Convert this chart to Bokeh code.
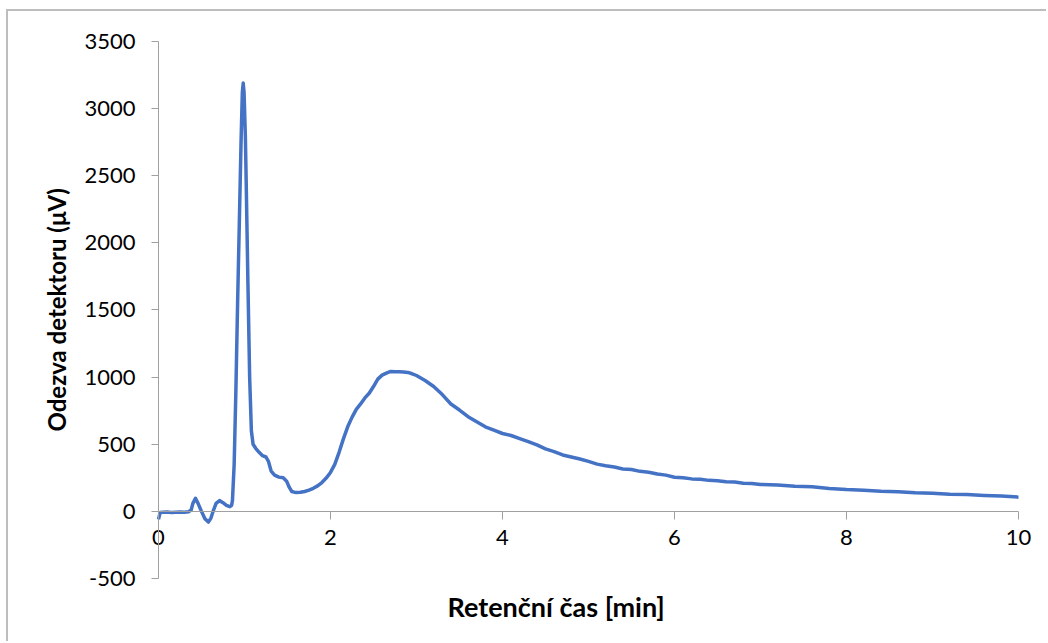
from bokeh.plotting import figure
from bokeh.models import Range1d, FixedTicker, Title
from bokeh.embed import file_html
from bokeh.resources import INLINE

# Chromatogram: retention time [min] vs detector response [µV]
time_min = [
    0.00, 0.02, 0.05, 0.10, 0.15, 0.20, 0.25, 0.30, 0.35, 0.38,
    0.40, 0.43, 0.46, 0.50, 0.54, 0.58, 0.61, 0.64, 0.67, 0.71,
    0.75, 0.79, 0.83, 0.85, 0.86, 0.88, 0.90, 0.92, 0.94, 0.96,
    0.975, 0.985, 0.995, 1.01, 1.02, 1.04, 1.06, 1.08, 1.10, 1.13,
    1.17, 1.21, 1.25, 1.28, 1.31, 1.35, 1.40, 1.45, 1.49, 1.52,
    1.55, 1.60, 1.65, 1.70, 1.75, 1.80, 1.85, 1.90, 1.95, 2.00,
    2.05, 2.10, 2.15, 2.20, 2.25, 2.30, 2.35, 2.40, 2.45, 2.50,
    2.55, 2.60, 2.65, 2.70, 2.75, 2.80, 2.85, 2.90, 2.95, 3.00,
    3.10, 3.20, 3.30, 3.40, 3.50, 3.60, 3.70, 3.80, 3.90, 4.00,
    4.10, 4.20, 4.30, 4.40, 4.50, 4.60, 4.70, 4.80, 4.90, 5.00,
    5.10, 5.20, 5.30, 5.40, 5.50, 5.60, 5.70, 5.80, 5.90, 6.00,
    6.10, 6.20, 6.30, 6.40, 6.50, 6.60, 6.70, 6.80, 6.90, 7.00,
    7.20, 7.40, 7.60, 7.80, 8.00, 8.20, 8.40, 8.60, 8.80, 9.00,
    9.20, 9.40, 9.60, 9.80, 10.00,
]
signal_uv = [
    -60, -8, -6, -5, -8, -6, -4, -6, -2, 10,
    60, 97, 60, 0, -55, -80, -50, 10, 60, 80,
    65, 45, 35, 45, 80, 350, 900, 1550, 2150, 2750,
    3120, 3190, 3120, 2800, 2450, 1700, 1000, 600, 500, 470,
    440, 415, 405, 370, 300, 270, 255, 250, 225, 180,
    148, 140, 142, 148, 158, 172, 190, 215, 248, 290,
    350, 440, 540, 630, 700, 760, 800, 845, 880, 930,
    985, 1015, 1030, 1042, 1040, 1040, 1038, 1035, 1025, 1012,
    975, 930, 870, 800, 755, 705, 668, 630, 605, 580,
    565, 542, 520, 495, 465, 445, 420, 405, 390, 372,
    352, 340, 330, 316, 312, 298, 292, 278, 270, 254,
    250, 242, 240, 231, 228, 220, 218, 210, 208, 200,
    197, 187, 183, 171, 163, 158, 149, 147, 139, 135,
    127, 125, 119, 114, 106,
]

x_ticks = [0, 2, 4, 6, 8, 10]
y_ticks = [-500, 0, 500, 1000, 1500, 2000, 2500, 3000, 3500]
y_tick_labels = ["-500", "0", "500", "1000", "1500", "2000", "2500", "3000", "3500"]

X_MIN, X_MAX = 0, 10
Y_MIN, Y_MAX = -500, 3500

# the drawing frame is larger than the axes so that the crossing axes,
# their tick numbers and the vertical title all fit inside it
X_PAD_LEFT, X_PAD_RIGHT = 1.744, 0.349
Y_PAD_TOP, Y_PAD_BOTTOM = 104, 67

FONT = "Lato"
AXIS_GREY = "#a0a0a0"
TICK_FONT_SIZE = "22px"

p = figure(
    width=1040, height=632,
    output_backend="svg", toolbar_location=None,
    x_range=Range1d(X_MIN - X_PAD_LEFT, X_MAX + X_PAD_RIGHT),
    y_range=Range1d(Y_MIN - Y_PAD_BOTTOM, Y_MAX + Y_PAD_TOP),
    min_border_left=0, min_border_right=0,
    min_border_top=16, min_border_bottom=56,
)
p.margin = (9, 0, 0, 6)
p.styles = {"border-top": "2px solid #bdbdbd", "border-left": "2px solid #bdbdbd"}
p.outline_line_color = None
p.grid.visible = False
p.background_fill_color = "white"
p.border_fill_color = "white"

p.line(time_min, signal_uv, line_color="#4472C4", line_width=3.5, line_join="round")

# x axis crosses the response axis at zero
xa = p.xaxis[0]
xa.fixed_location = 0
xa.bounds = (X_MIN, X_MAX)
xa.ticker = FixedTicker(ticks=x_ticks)
xa.axis_line_color = AXIS_GREY
xa.major_tick_line_color = AXIS_GREY
xa.major_tick_in = 0
xa.major_tick_out = 8
xa.minor_tick_line_color = None
xa.minor_tick_out = 0
xa.major_label_standoff = 11
xa.major_label_text_font = FONT
xa.major_label_text_font_size = TICK_FONT_SIZE
xa.major_label_text_color = "black"

# response axis sits at time zero
ya = p.yaxis[0]
ya.fixed_location = 0
ya.bounds = (Y_MIN, Y_MAX)
ya.ticker = FixedTicker(ticks=y_ticks)
ya.major_label_overrides = dict(zip(y_ticks, y_tick_labels))
ya.axis_line_color = AXIS_GREY
ya.major_tick_line_color = AXIS_GREY
ya.major_tick_in = 0
ya.major_tick_out = 7
ya.minor_tick_line_color = None
ya.minor_tick_out = 0
ya.major_label_standoff = 16
ya.major_label_text_font = FONT
ya.major_label_text_font_size = TICK_FONT_SIZE
ya.major_label_text_color = "black"
ya.axis_label = "Odezva detektoru (μV)"
ya.axis_label_text_font = FONT
ya.axis_label_text_font_style = "bold"
ya.axis_label_text_font_size = "24px"
ya.axis_label_text_color = "black"
ya.axis_label_standoff = 10

p.add_layout(
    Title(text="Retenční čas [min]", align="left", offset=439,
          text_font=FONT, text_font_style="bold", text_font_size="27px",
          text_color="black", standoff=0),
    "below",
)

open("out.html", "w").write(file_html(p, INLINE))
